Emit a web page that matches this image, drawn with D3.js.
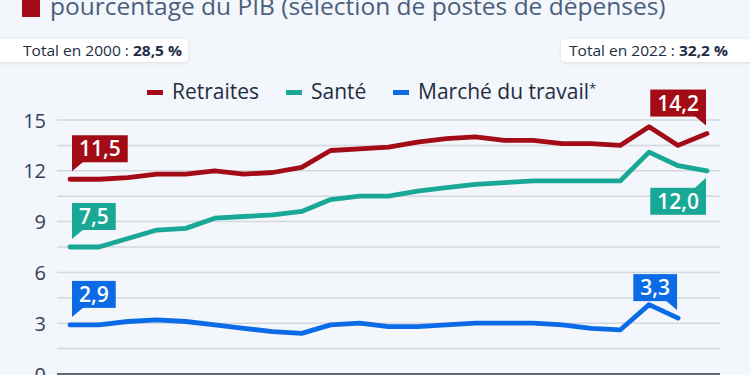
<!DOCTYPE html>
<html><head><meta charset="utf-8">
<script src="https://cdn.jsdelivr.net/npm/d3@7"></script>
<style>
html,body{margin:0;padding:0;background:#f3f6fa;overflow:hidden}
svg{display:block}
</style></head>
<body>
<svg id="c" width="750" height="375"></svg>
<script>
const years = d3.range(2000, 2023);
const retraites = [11.5, 11.5, 11.6, 11.8, 11.8, 12.0, 11.8, 11.9, 12.2, 13.2, 13.3, 13.4, 13.7, 13.9, 14.0, 13.8, 13.8, 13.6, 13.6, 13.5, 14.6, 13.5, 14.2];
const sante = [7.5, 7.5, 8.0, 8.5, 8.6, 9.2, 9.3, 9.4, 9.6, 10.3, 10.5, 10.5, 10.8, 11.0, 11.2, 11.3, 11.4, 11.4, 11.4, 11.4, 13.1, 12.3, 12.0];
const travail = [2.9, 2.9, 3.1, 3.2, 3.1, 2.9, 2.7, 2.5, 2.4, 2.9, 3.0, 2.8, 2.8, 2.9, 3.0, 3.0, 3.0, 2.9, 2.7, 2.6, 4.1, 3.3];
const seriesNames = ["Retraites", "Santé", "Marché du travail"];
const yTicks = [0, 3, 6, 9, 12, 15];
const title = "pourcentage du PIB (sélection de postes de dépenses)";
const totals = [{label: "Total en 2000 : ", value: "28,5 %"}, {label: "Total en 2022 : ", value: "32,2 %"}];

const colors = ["#a30b16", "#1aa896", "#0b6be6"];
const textColor = "#1e2d43";
const font = "'Open Sans', sans-serif";

const svg = d3.select("#c");
svg.append("rect").attr("width", 750).attr("height", 375).attr("fill", "#f3f6fa");

const defs = svg.append("defs");
const f = defs.append("filter").attr("id", "sh").attr("x", "-10%").attr("y", "-30%").attr("width", "120%").attr("height", "160%");
f.append("feDropShadow").attr("dx", 0).attr("dy", 1).attr("stdDeviation", 1.5).attr("flood-color", "#8090a8").attr("flood-opacity", 0.25);

// Title (cut off at the top)
svg.append("rect").attr("x", 22).attr("y", -6).attr("width", 18).attr("height", 23).attr("fill", colors[0]);
svg.append("text").attr("x", 50).attr("y", 15).attr("font-family", font).attr("font-size", 24.5)
  .attr("fill", "#4a5f7e").text(title);

// Totals boxes
const tb = [{x: -10, w: 198, tx: 23}, {x: 561, w: 200, tx: 569}];
totals.forEach((t, i) => {
  svg.append("rect").attr("x", tb[i].x).attr("y", 39).attr("width", tb[i].w).attr("height", 23).attr("rx", 4)
    .attr("fill", "#fff").attr("filter", "url(#sh)");
  const tt = svg.append("text").attr("x", tb[i].tx).attr("y", 56).attr("font-family", font).attr("font-size", 15).attr("fill", textColor)
    .attr("textLength", 159).attr("lengthAdjust", "spacingAndGlyphs");
  tt.append("tspan").text(t.label);
  tt.append("tspan").attr("font-weight", 700).text(t.value);
});

// Scales
const x = d3.scaleLinear().domain([2000, 2022]).range([70, 707]);
const y = d3.scaleLinear().domain([0, 15]).range([374, 120]);

// Gridlines (every 1.5)
const grid = d3.range(1.5, 15.01, 1.5);
svg.append("g").selectAll("line").data(grid).join("line")
  .attr("x1", 57).attr("x2", 720).attr("y1", d => y(d)).attr("y2", d => y(d))
  .attr("stroke", "#d3d8df").attr("stroke-width", 1.5);

// y axis labels
const yAxis = d3.axisLeft(y).tickValues(yTicks).tickSize(0).tickPadding(0);
const ga = svg.append("g").attr("transform", "translate(46,0)").call(yAxis);
ga.select(".domain").remove();
ga.selectAll("text").attr("font-family", font).attr("font-size", 20).attr("fill", "#33425a").attr("dy", "0.35em");

// baseline
svg.append("line").attr("x1", 57).attr("x2", 720).attr("y1", y(0)).attr("y2", y(0)).attr("stroke", "#5f6b7b").attr("stroke-width", 2);

// Legend
const legendX = [147, 286, 393];
seriesNames.forEach((n, i) => {
  svg.append("rect").attr("x", legendX[i]).attr("y", 90).attr("width", 16).attr("height", 5).attr("fill", colors[i]);
  const lt = svg.append("text").attr("x", legendX[i] + 25).attr("y", 99).attr("font-family", font).attr("font-size", 21)
    .attr("fill", textColor).text(n);
  if (i === 2) lt.append("tspan").attr("dy", -6).attr("font-size", 13).text("*");
});

// Lines
const allSeries = [retraites, sante, travail];
const line = d3.line().x((d, i) => x(years[i])).y(d => y(d));
allSeries.forEach((s, i) => {
  svg.append("path").datum(s).attr("d", line).attr("fill", "none").attr("stroke", colors[i])
    .attr("stroke-width", 4.8).attr("stroke-linejoin", "round").attr("stroke-linecap", "round");
});

// Callouts
function fmt(v) { return v.toFixed(1).replace(".", ","); }
function callout(si, idx, side, dir) {
  const s = allSeries[si];
  const px = x(years[idx]), py = y(s[idx]);
  const g = svg.append("g");
  const t = g.append("text").attr("font-family", font).attr("font-size", 21).attr("font-weight", 600)
    .attr("fill", "#fff").text(fmt(s[idx]));
  const bb = t.node().getBBox();
  const w = bb.width + 14, h = 27;
  const bx = side === "left" ? px + 2 : px - 1 - w;
  const by = dir === "above" ? py - 17 - h : py + 17;
  g.insert("rect", "text").attr("x", bx).attr("y", by).attr("width", w).attr("height", h).attr("fill", colors[si]);
  const ex = side === "left" ? bx : bx + w;
  const sx = side === "left" ? 12 : -12;
  const baseY = dir === "above" ? by + h - 1 : by + 1;
  const tip = dir === "above" ? py - 8 : py + 7;
  g.insert("path", "text").attr("d", `M${ex},${baseY}L${ex},${tip}L${ex + sx},${baseY}Z`).attr("fill", colors[si]);
  t.attr("x", bx + w / 2).attr("text-anchor", "middle").attr("y", by + h / 2 + 7.5);
}
callout(0, 0, "left", "above");
callout(1, 0, "left", "above");
callout(2, 0, "left", "above");
callout(0, 22, "right", "above");
callout(1, 22, "right", "below");
callout(2, 21, "right", "above");
</script>
</body></html>
